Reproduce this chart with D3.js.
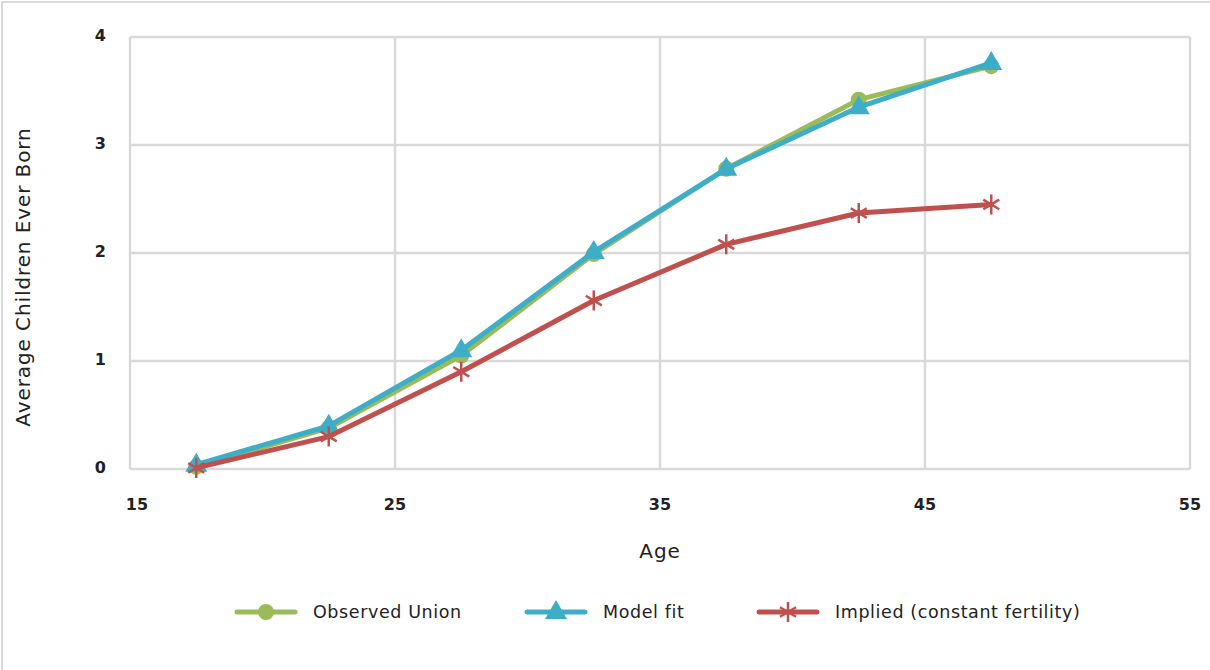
<!DOCTYPE html>
<html><head><meta charset="utf-8">
<script src="https://cdn.jsdelivr.net/npm/d3@7"></script>
<style>
html,body{margin:0;padding:0;background:#fff;}
svg{display:block;font-family:"DejaVu Sans","Noto Sans",sans-serif;}
</style></head>
<body>
<svg id="c" width="1210" height="670"></svg>
<script>
const ages = [17.5, 22.5, 27.5, 32.5, 37.5, 42.5, 47.5];
const observedUnion = [0.02, 0.38, 1.05, 1.99, 2.78, 3.42, 3.73];
const modelFit = [0.04, 0.40, 1.10, 2.01, 2.78, 3.35, 3.76];
const impliedConstant = [0.01, 0.30, 0.90, 1.56, 2.08, 2.37, 2.45];
const xTicks = [15, 25, 35, 45, 55];
const yTicks = [0, 1, 2, 3, 4];
const seriesNames = ["Observed Union", "Model fit", "Implied (constant fertility)"];

const svg = d3.select("#c");
const W = 1210, H = 670;
const m = {l:130, r:20, t:37, b:201};
const x = d3.scaleLinear().domain([15,55]).range([m.l, W-m.r]);
const y = d3.scaleLinear().domain([0,4]).range([H-m.b, m.t]);

// outer border
svg.append("path").attr("d",`M2,${H} V2 H${W}`).attr("fill","none").attr("stroke","#d0d0d0").attr("stroke-width",1.5);

const grid = "#d9d9d9";
svg.append("g").selectAll("line").data(yTicks).join("line")
  .attr("x1",x(15)).attr("x2",x(55)).attr("y1",d=>y(d)).attr("y2",d=>y(d))
  .attr("stroke",grid).attr("stroke-width",2.5);
svg.append("g").selectAll("line").data(xTicks).join("line")
  .attr("y1",y(0)).attr("y2",y(4)).attr("x1",d=>x(d)).attr("x2",d=>x(d))
  .attr("stroke",grid).attr("stroke-width",2.5);

// tick labels
svg.append("g").selectAll("text").data(yTicks).join("text")
  .attr("x",106).attr("y",d=>y(d)+4).attr("text-anchor","end")
  .attr("font-size",16).attr("font-weight",600).attr("fill","#222").text(d=>d);
svg.append("g").selectAll("text").data(xTicks).join("text")
  .attr("x",d=>x(d)+(d===15?7:0)).attr("y",510).attr("text-anchor","middle")
  .attr("font-size",16).attr("font-weight",600).attr("fill","#222").text(d=>d);

// axis titles
svg.append("text").attr("x",x(35)).attr("y",558).attr("text-anchor","middle")
  .attr("font-size",20).attr("letter-spacing",0.9).attr("fill","#222").text("Age");
svg.append("text").attr("transform",`translate(30,${(y(0)+y(4))/2+24}) rotate(-90)`)
  .attr("text-anchor","middle").attr("font-size",20).attr("letter-spacing",0.9).attr("fill","#222").text("Average Children Ever Born");

const colors = ["#9bbb59", "#3eadc7", "#c0504d"];
const data = [observedUnion, modelFit, impliedConstant];
const line = d3.line().x((d,i)=>x(ages[i])).y(d=>y(d));

function marker(g, type, cx, cy, col){
  if(type===0){
    g.append("circle").attr("cx",cx).attr("cy",cy).attr("r",8).attr("fill",col);
  } else if(type===1){
    g.append("path").attr("d",`M${cx},${cy-12} L${cx+11},${cy+7} L${cx-11},${cy+7} Z`).attr("fill",col);
  } else {
    const s=10, d=8;
    g.append("path").attr("d",`M${cx},${cy-s} V${cy+s} M${cx-d},${cy-d*0.6} L${cx+d},${cy+d*0.6} M${cx-d},${cy+d*0.6} L${cx+d},${cy-d*0.6}`)
      .attr("stroke",col).attr("stroke-width",2.5).attr("fill","none");
  }
}

data.forEach((vals,k)=>{
  const g = svg.append("g");
  g.append("path").datum(vals).attr("d",line).attr("fill","none")
    .attr("stroke",colors[k]).attr("stroke-width",5).attr("stroke-linejoin","round");
  vals.forEach((v,i)=>marker(g,k,x(ages[i]),y(v),colors[k]));
});

// legend
const legX = [237, 527, 759];
const ly = 612;
seriesNames.forEach((n,k)=>{
  const g = svg.append("g");
  g.append("line").attr("x1",legX[k]).attr("x2",legX[k]+58).attr("y1",ly).attr("y2",ly)
    .attr("stroke",colors[k]).attr("stroke-width",5).attr("stroke-linecap","round");
  marker(g,k,legX[k]+29,ly,colors[k]);
  g.append("text").attr("x",legX[k]+76).attr("y",ly+6).attr("font-size",17.5)
    .attr("letter-spacing",0.6).attr("fill","#222").text(n);
});
</script>
</body></html>
